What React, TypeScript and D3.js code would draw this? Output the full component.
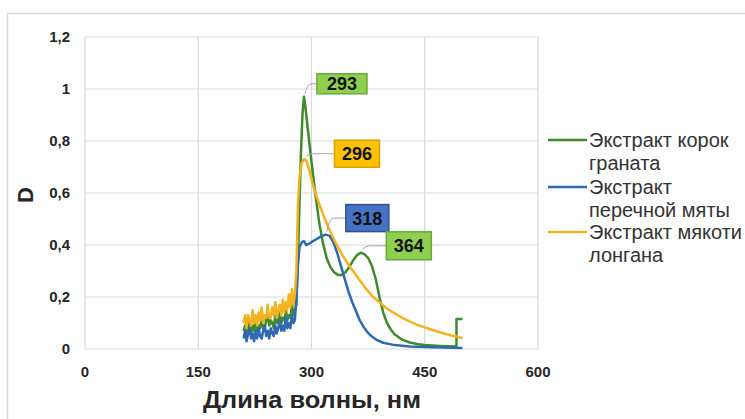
import React from "react";
import * as d3 from "d3";

const W = 745;
const H = 419;

// noisy low-wavelength region (nm)
const noiseNm = [210, 212, 214, 216, 218, 220, 222, 224, 226, 228, 230, 232, 234, 236, 238, 240, 242, 244, 246, 248, 250, 252, 254, 256, 258, 260, 262, 264, 266, 268, 270, 272, 274, 276, 278];
const greenNoise = [0.07, 0.09, 0.05, 0.08, 0.11, 0.06, 0.09, 0.07, 0.11, 0.07, 0.09, 0.08, 0.12, 0.08, 0.08, 0.11, 0.13, 0.09, 0.11, 0.10, 0.08, 0.13, 0.10, 0.11, 0.14, 0.10, 0.12, 0.11, 0.15, 0.11, 0.13, 0.12, 0.17, 0.13, 0.15];
const blueNoise = [0.04, 0.07, 0.03, 0.06, 0.08, 0.04, 0.06, 0.03, 0.07, 0.04, 0.08, 0.05, 0.04, 0.07, 0.09, 0.05, 0.07, 0.04, 0.08, 0.06, 0.05, 0.09, 0.06, 0.08, 0.11, 0.07, 0.09, 0.07, 0.12, 0.08, 0.10, 0.08, 0.13, 0.10, 0.11];
const orangeNoise = [0.10, 0.13, 0.08, 0.13, 0.11, 0.09, 0.15, 0.10, 0.13, 0.09, 0.14, 0.11, 0.16, 0.10, 0.13, 0.12, 0.17, 0.12, 0.12, 0.16, 0.13, 0.18, 0.12, 0.15, 0.17, 0.13, 0.19, 0.14, 0.18, 0.15, 0.21, 0.16, 0.23, 0.17, 0.21];

// main band
const greenMain: [number, number][] = [
  [280, 0.17], [282, 0.35], [284, 0.55], [286, 0.75], [288, 0.9], [290, 0.97], [292, 0.93], [295, 0.85],
  [300, 0.72], [305, 0.6], [310, 0.49], [315, 0.41], [320, 0.35], [325, 0.315], [330, 0.295], [335, 0.285],
  [340, 0.285], [345, 0.295], [350, 0.315], [355, 0.34], [360, 0.36], [365, 0.37], [370, 0.365], [375, 0.35],
  [380, 0.32], [385, 0.27], [390, 0.2], [395, 0.14], [400, 0.1], [405, 0.075], [410, 0.057], [420, 0.036],
  [430, 0.025], [440, 0.019], [450, 0.015], [470, 0.012], [492, 0.01], [492, 0.115], [500, 0.115],
];
const blueMain: [number, number][] = [
  [280, 0.2], [282, 0.32], [284, 0.39], [287, 0.41], [290, 0.415], [293, 0.4], [297, 0.405], [302, 0.415],
  [308, 0.425], [314, 0.435], [319, 0.44], [324, 0.435], [329, 0.41], [334, 0.37], [339, 0.32], [344, 0.27],
  [349, 0.22], [354, 0.18], [359, 0.145], [364, 0.11], [369, 0.085], [374, 0.065], [380, 0.048], [387, 0.034],
  [395, 0.024], [410, 0.015], [430, 0.01], [460, 0.007], [500, 0.004],
];
const orangeMain: [number, number][] = [
  [280, 0.3], [282, 0.55], [284, 0.66], [287, 0.715], [290, 0.73], [293, 0.725], [297, 0.69], [302, 0.63],
  [308, 0.575], [315, 0.52], [322, 0.47], [330, 0.42], [340, 0.365], [350, 0.32], [360, 0.28], [370, 0.24],
  [380, 0.205], [390, 0.18], [400, 0.155], [420, 0.12], [440, 0.093], [460, 0.073], [480, 0.056], [500, 0.042],
];

const seriesNames = ["Экстракт корок граната", "Экстракт перечной мяты", "Экстракт мякоти лонгана"];
const legendLines = [["Экстракт корок", "граната"], ["Экстракт", "перечной мяты"], ["Экстракт мякоти", "лонгана"]];
const seriesColors = ["#3f8a2d", "#2f69b3", "#f2b320"];

const xTicks = [0, 150, 300, 450, 600];
const yTicks = [0, 0.2, 0.4, 0.6, 0.8, 1, 1.2];
const yTickLabels = ["0", "0,2", "0,4", "0,6", "0,8", "1", "1,2"];

// peak annotations
const peakNm = [290, 292, 319, 366];
const peakD = [0.97, 0.73, 0.44, 0.37];
const peakLabels = ["293", "296", "318", "364"];
const peakFill = ["#8fcf4f", "#ffc000", "#4472c4", "#8fcf4f"];
const peakStroke = ["#6aa83a", "#d9a200", "#2f528f", "#6aa83a"];
// box layout (px relative to point): dx to box left, dy to box top, width, height
const peakBox = [
  [13, -23, 50, 20],
  [29, -19, 45, 27],
  [20, -30, 43, 27],
  [25, -21, 45, 28],
];

export default function App() {
  const x = d3.scaleLinear().domain([0, 600]).range([85, 538]);
  const y = d3.scaleLinear().domain([0, 1.2]).range([349, 37]);
  const line = d3
    .line<[number, number]>()
    .x((d) => x(d[0]))
    .y((d) => y(d[1]))
    .curve(d3.curveLinear);

  const noisePts = (vals: number[]) => noiseNm.map((n, i) => [n, vals[i]] as [number, number]);
  const series = [
    noisePts(greenNoise).concat(greenMain),
    noisePts(blueNoise).concat(blueMain),
    noisePts(orangeNoise).concat(orangeMain),
  ];

  const font = "'Liberation Sans', Arial, sans-serif";
  const legendY = [140, 187, 232];

  return (
    <svg width={W} height={H} style={{ display: "block", position: "absolute", left: 0, top: 0 }}>
      <rect x={0} y={0} width={W} height={H} fill="#fff" />
      <rect x={7.5} y={13.5} width={900} height={600} fill="none" stroke="#d9d9d9" strokeWidth={1.5} />
      {/* grid */}
      {yTicks.map((t) => (
        <line key={"gy" + t} x1={x(0)} x2={x(600)} y1={y(t)} y2={y(t)} stroke="#d9d9d9" strokeWidth={1.2} />
      ))}
      {xTicks.map((t) => (
        <line key={"gx" + t} x1={x(t)} x2={x(t)} y1={y(0)} y2={y(1.2)} stroke="#d9d9d9" strokeWidth={1.2} />
      ))}
      {/* tick labels */}
      {yTicks.map((t, i) => (
        <text key={"yl" + t} x={70} y={y(t)} dy="0.35em" textAnchor="end" fontFamily={font} fontWeight="bold" fontSize={15} fill="#262626">
          {yTickLabels[i]}
        </text>
      ))}
      {xTicks.map((t) => (
        <text key={"xl" + t} x={x(t)} y={372} dy="0.35em" textAnchor="middle" fontFamily={font} fontWeight="bold" fontSize={15} fill="#262626">
          {String(t)}
        </text>
      ))}
      {/* axis titles */}
      <text x={312} y={408} textAnchor="middle" fontFamily={font} fontWeight="bold" fontSize={23} fill="#262626" textLength={218} lengthAdjust="spacingAndGlyphs">
        Длина волны, нм
      </text>
      <text transform={`translate(33,195) rotate(-90)`} textAnchor="middle" fontFamily={font} fontWeight="bold" fontSize={22} fill="#262626">
        D
      </text>
      {/* series */}
      {series.map((s, i) => (
        <path key={seriesNames[i]} d={line(s) || ""} fill="none" stroke={seriesColors[i]} strokeWidth={2.5} strokeLinejoin="round" />
      ))}
      {/* annotations */}
      {peakLabels.map((lab, i) => {
        const px = x(peakNm[i]);
        const py = y(peakD[i]);
        const [dx, dy, bw, bh] = peakBox[i];
        const bx = px + dx;
        const by = py + dy;
        const my = by + bh / 2;
        return (
          <g key={"pk" + lab}>
            <path d={`M${px + 1},${py - 3} Q${px + 3},${my} ${px + 8},${my} L${bx},${my}`} fill="none" stroke="#a6a6a6" strokeWidth={1} />
            <rect x={bx} y={by} width={bw} height={bh} fill={peakFill[i]} stroke={peakStroke[i]} strokeWidth={1.5} />
            <text x={bx + bw / 2} y={my} dy="0.36em" textAnchor="middle" fontFamily={font} fontWeight="bold" fontSize={18} fill="#111">
              {lab}
            </text>
          </g>
        );
      })}
      {/* legend */}
      {legendLines.map((ls, i) => (
        <g key={"lg" + i}>
          <line x1={548} x2={587} y1={legendY[i]} y2={legendY[i]} stroke={seriesColors[i]} strokeWidth={2.5} />
          {ls.map((t, j) => (
            <text key={t} x={589} y={legendY[i] + j * 23} dy="0.35em" fontFamily={font} fontSize={20} fill="#333">
              {t}
            </text>
          ))}
        </g>
      ))}
    </svg>
  );
}
